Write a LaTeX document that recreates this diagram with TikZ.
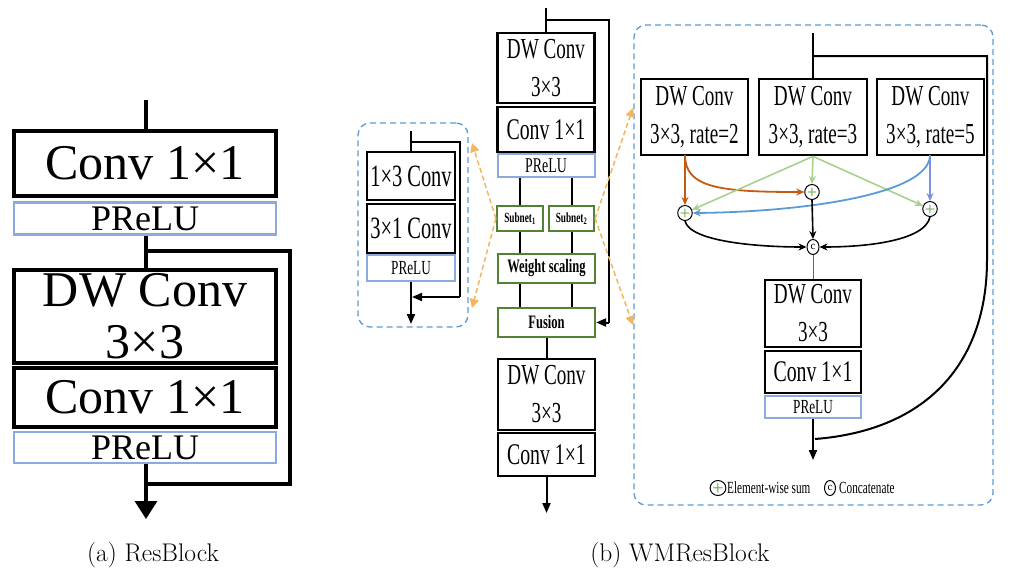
\documentclass[tikz,border=0pt]{standalone}
\usepackage{fontspec}
\newfontfamily\tms{Liberation Serif}
\newfontfamily\nar[FakeStretch=0.66]{Liberation Serif}
\usetikzlibrary{arrows.meta,shapes.geometric}
\definecolor{preblue}{HTML}{8EA9DB}
\definecolor{gboxc}{HTML}{548235}
\definecolor{dashblue}{HTML}{5B9BD5}
\definecolor{orng}{HTML}{F2B65E}
\definecolor{rust}{HTML}{C55A11}
\definecolor{lgreen}{HTML}{A9D18E}
\definecolor{cblue}{HTML}{5B9BD5}
\definecolor{vblue}{HTML}{7F8FE0}
\definecolor{plusg}{HTML}{70AD47}
\begin{document}
\begin{tikzpicture}[x=1pt,y=-1pt,
  blka/.style={draw, line width=3.3pt, inner sep=0pt, align=center, font=\tms\fontsize{50}{52}\selectfont},
  prea/.style={draw=preblue, line width=2.5pt, inner sep=0pt, font=\tms\fontsize{36}{38}\selectfont},
  blkb/.style={draw, line width=2.7pt, inner sep=0pt, align=center, font=\nar\fontsize{29}{38}\selectfont},
  preb/.style={draw=preblue, line width=2pt, inner sep=0pt, font=\nar\fontsize{21}{24}\selectfont},
  gbox/.style={draw=gboxc, line width=2.2pt, inner sep=0pt, font=\nar\bfseries\fontsize{19}{22}\selectfont},
  sbox/.style={draw=gboxc, line width=2.2pt, inner sep=0pt, font=\nar\bfseries\fontsize{14}{16}\selectfont},
  dbox/.style={draw=dashblue, line width=1.3pt, dash pattern=on 6pt off 4pt, rounded corners=12pt},
  sumn/.style={ellipse, draw, fill=white, line width=1pt, minimum width=12pt, minimum height=15pt, inner sep=0pt},
  lnA/.style={line width=3.3pt},
  lnB/.style={line width=2pt},
  tipA/.style={-{Triangle[length=18pt,width=22pt]}},
  tipB/.style={-{Triangle[length=10pt,width=8pt]}},
  tipC/.style={-{Stealth[length=8pt,width=7pt]}},
  oarr/.style={draw=orng, line width=1.5pt, dash pattern=on 5pt off 3pt, -{Triangle[length=9pt,width=9pt]}},
  captxt/.style={font=\fontsize{25.5}{28}\selectfont}
]
\useasboundingbox (0,0) rectangle (1012,576);

% ---------------- panel (a)
\node[blka, minimum width=262, minimum height=65] (a1) at (145,163.5) {Conv 1×1};
\node[prea, minimum width=262, minimum height=32] (a2) at (145,218.5) {PReLU};
\node[blka, minimum width=262, minimum height=93] (a3) at (145,316.5) {DW Conv\\3×3};
\node[blka, minimum width=262, minimum height=59] (a4) at (145,397.5) {Conv 1×1};
\node[prea, minimum width=262, minimum height=31] (a5) at (145,447.5) {PReLU};
\coordinate (a0) at (146,100);
\coordinate (aj) at (146,251);
\coordinate (ajr) at (290,251);
\coordinate (akr) at (290,484);
\coordinate (ak) at (146,484);
\coordinate (aend) at (146,519);
\draw[lnA] (a0) -- (a1.north -| a0);
\draw[lnA] (a2.south -| a0) -- (a3.north -| a0);
\draw[lnA] (aj) -- (ajr) -- (akr) -- (ak);
\draw[lnA, tipA] (a5.south -| a0) -- (aend);

% ---------------- panel (b): left dashed box
\node[dbox, minimum width=110, minimum height=204] (lbox) at (413,225) {};
\node[blkb, minimum width=88, minimum height=48, font=\nar\fontsize{31}{36}\selectfont] (l1) at (411,176) {1×3 Conv};
\node[blkb, minimum width=88, minimum height=49, font=\nar\fontsize{31}{36}\selectfont] (l2) at (411,228.5) {3×1 Conv};
\node[preb, minimum width=88, minimum height=26, font=\nar\fontsize{20}{22}\selectfont] (l3) at (411,268) {PReLU};
\coordinate (l0) at (411,131);
\coordinate (lj) at (411,142);
\coordinate (ljr) at (460,142);
\coordinate (lkr) at (460,297);
\coordinate (lk) at (412,297);
\coordinate (lend) at (411,324);
\draw[lnB] (l0) -- (l1.north);
\draw[lnB] (lj) -- (ljr) -- (lkr);
\draw[lnB, tipB] (lkr) -- (lk);
\draw[lnB, tipB] (l3.south) -- (lend);

% ---------------- panel (b): main column
\node[blkb, minimum width=97, minimum height=70] (b1) at (546,68) {DW Conv\\3×3};
\node[blkb, minimum width=97, minimum height=45, font=\nar\fontsize{30}{38}\selectfont] (b2) at (546,129.5) {Conv 1×1};
\node[preb, minimum width=97, minimum height=23] (b3) at (546,165.5) {PReLU};
\node[sbox, minimum width=46, minimum height=25] (sub1) at (520,218.5) {Subnet\textsubscript{1}};
\node[sbox, minimum width=45, minimum height=25] (sub2) at (571.5,218.5) {Subnet\textsubscript{2}};
\node[gbox, minimum width=97, minimum height=29] (ws) at (546.5,268.5) {Weight scaling};
\node[gbox, minimum width=97, minimum height=29] (fu) at (546.5,322.5) {Fusion};
\node[blkb, minimum width=97, minimum height=71] (b4) at (546.5,394.5) {DW Conv\\3×3};
\node[blkb, minimum width=97, minimum height=43, font=\nar\fontsize{30}{38}\selectfont] (b5) at (546.5,454.5) {Conv 1×1};
\coordinate (b0) at (546,8);
\coordinate (bj) at (546,20);
\coordinate (bjr) at (609,20);
\coordinate (bkr) at (609,322.5);
\coordinate (bend) at (546.5,513);
\draw[lnB] (b0) -- (b1.north -| b0);
\draw[lnB] (bj) -- (bjr) -- (bkr);
\draw[lnB, tipB] (bkr) -- (fu.east);
\draw[lnB] (b3.south -| sub1) -- (sub1.north);
\draw[lnB] (b3.south -| sub2) -- (sub2.north);
\draw[lnB] (sub1.south) -- (ws.north -| sub1);
\draw[lnB] (sub2.south) -- (ws.north -| sub2);
\draw[lnB] (ws.south -| sub1) -- (fu.north -| sub1);
\draw[lnB] (ws.south -| sub2) -- (fu.north -| sub2);
\draw[lnB] (fu.south) -- (b4.north);
\draw[lnB, tipB] (b5.south) -- (bend);

% ---------------- panel (b): right dashed box
\node[dbox, minimum width=359, minimum height=480] (rbox) at (813.5,265) {};
\node[blkb, minimum width=107, minimum height=76, font=\nar\fontsize{29}{38}\selectfont] (r1) at (694.5,117) {DW Conv\\3×3, rate=2};
\node[blkb, minimum width=108, minimum height=76, font=\nar\fontsize{29}{38}\selectfont] (r2) at (813,117) {DW Conv\\3×3, rate=3};
\node[blkb, minimum width=107, minimum height=76, font=\nar\fontsize{29}{38}\selectfont] (r3) at (930.5,117) {DW Conv\\3×3, rate=5};
\node[sumn] (s1) at (685,213) {\sffamily\bfseries\fontsize{12}{12}\selectfont\color{plusg}+};
\node[sumn] (s2) at (812,192) {\sffamily\bfseries\fontsize{12}{12}\selectfont\color{plusg}+};
\node[sumn] (s3) at (930,209) {\sffamily\bfseries\fontsize{12}{12}\selectfont\color{plusg}+};
\node[sumn] (cc) at (813,247) {\tms\fontsize{11}{11}\selectfont c};
\node[blkb, minimum width=96, minimum height=67, font=\nar\fontsize{29}{38}\selectfont] (r4) at (813,313.5) {DW Conv\\3×3};
\node[blkb, minimum width=96, minimum height=42, font=\nar\fontsize{30}{38}\selectfont] (r5) at (813,372) {Conv 1×1};
\node[preb, minimum width=96, minimum height=22, font=\nar\fontsize{20}{22}\selectfont] (r6) at (813,407) {PReLU};
\coordinate (r0) at (813,33);
\coordinate (rj) at (813,56);
\coordinate (rjr) at (987,56);
\coordinate (rkr) at (987,260);
\coordinate (rk) at (815,439);
\coordinate (rend) at (813,460);
\coordinate (o1) at (685,155);
\coordinate (o3) at (930,155);
\draw[lnB] (r0) -- (r2.north);
\draw[lnB] (rj) -- (rjr) -- (rkr) .. controls (987,360) and (930,430) .. (rk);
% coloured connectors
\draw[rust, line width=1.8pt, tipC] (o1) -- (s1.north);
\draw[rust, line width=1.8pt, tipC] (o1) .. controls (685,188) and (720,192) .. (s2.west);
\draw[lgreen, line width=1.6pt, tipC] (r2.south) -- (s2.north);
\draw[lgreen, line width=1.6pt, tipC] (r2.south) -- (s1);
\draw[lgreen, line width=1.6pt, tipC] (r2.south) -- (s3);
\draw[vblue, line width=2pt, tipC] (o3) -- (s3.north);
\draw[cblue, line width=1.8pt, tipC] (o3) .. controls (930,195) and (800,212) .. (s1.east);
\draw[line width=1.6pt, tipC] (s2.south) -- (cc.north);
\draw[line width=1.6pt, tipC] (s1.south) .. controls (690,242) and (760,247) .. (cc.west);
\draw[line width=1.6pt, tipC] (s3.south) .. controls (925,240) and (870,247) .. (cc.east);
\draw[gray!80!black, line width=1pt] (cc.south) -- (r4.north);
\draw[lnB, tipB] (r6.south) -- (rend);
% legend
\node[sumn, minimum width=11pt, minimum height=15pt] (lg1) at (718,488) {\sffamily\bfseries\fontsize{13}{13}\selectfont\color{plusg}+};
\node[anchor=west, inner sep=0pt, font=\nar\fontsize{17}{18}\selectfont] (lg1t) at (727,488) {Element-wise sum};
\node[sumn, minimum width=11pt, minimum height=15pt] (lg2) at (830,488) {\tms\fontsize{11}{11}\selectfont c};
\node[anchor=west, inner sep=0pt, font=\nar\fontsize{17}{18}\selectfont] (lg2t) at (839,488) {Concatenate};

% orange dashed zoom arrows
\coordinate (ol1) at (472,143);
\coordinate (ol2) at (472,308);
\coordinate (or1) at (633,108);
\coordinate (or2) at (633,325);
\draw[oarr] (sub1.west) -- (ol1);
\draw[oarr] (sub1.west) -- (ol2);
\draw[oarr] (sub2.east) -- (or1);
\draw[oarr] (sub2.east) -- (or2);

% captions
\node[captxt] (capa) at (153,555) {(a) ResBlock};
\node[captxt] (capb) at (680,555) {(b) WMResBlock};
\end{tikzpicture}
\end{document}
